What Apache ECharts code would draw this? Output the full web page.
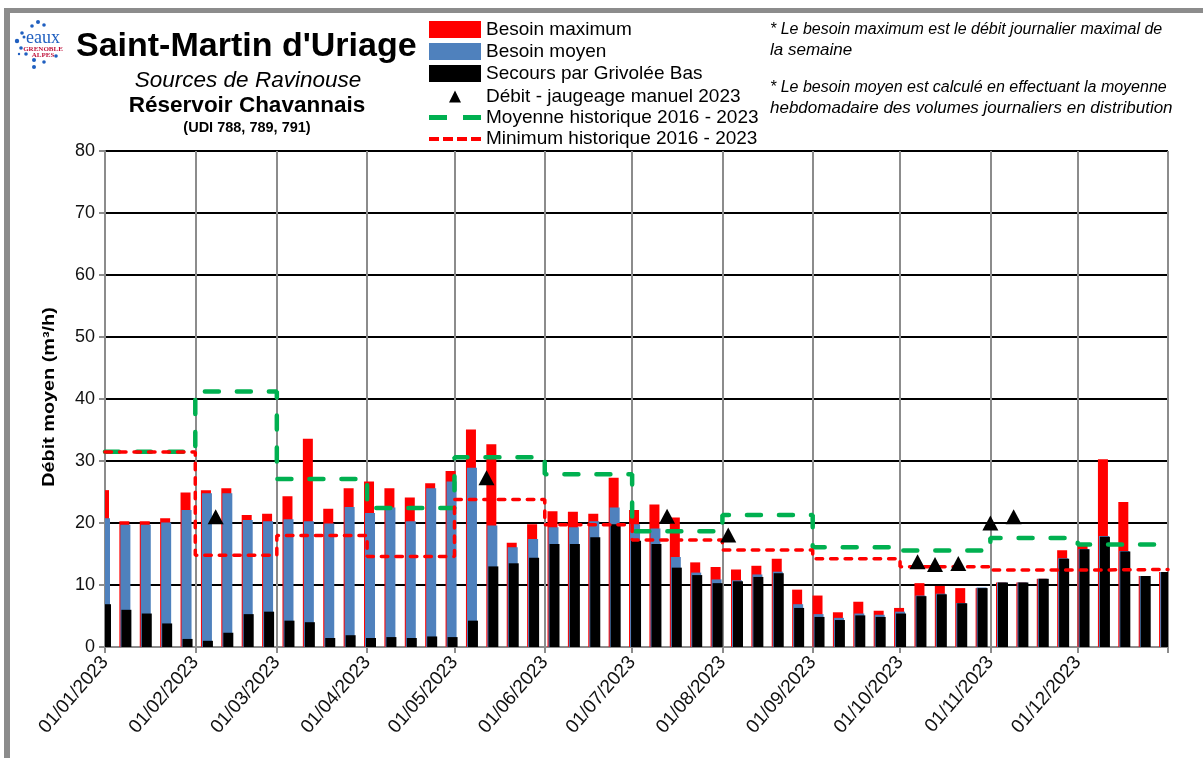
<!DOCTYPE html>
<html>
<head>
<meta charset="utf-8">
<title>Saint-Martin d'Uriage</title>
<script src="https://cdn.jsdelivr.net/npm/echarts@6/dist/echarts.min.js"></script>
<style>
html, body { margin: 0; padding: 0; background: #fff; }
#chart { width: 1203px; height: 758px; }
</style>
</head>
<body>
<div id="chart"></div>
<script>
// semaines (barres hebdomadaires)
var weeks = ['2023-01-01','2023-01-08','2023-01-15','2023-01-22','2023-01-29','2023-02-05','2023-02-12','2023-02-19','2023-02-26',
	'2023-03-05','2023-03-12','2023-03-19','2023-03-26','2023-04-02','2023-04-09','2023-04-16','2023-04-23','2023-04-30',
	'2023-05-07','2023-05-14','2023-05-21','2023-05-28','2023-06-04','2023-06-11','2023-06-18','2023-06-25',
	'2023-07-02','2023-07-09','2023-07-16','2023-07-23','2023-07-30','2023-08-06','2023-08-13','2023-08-20','2023-08-27',
	'2023-09-03','2023-09-10','2023-09-17','2023-09-24','2023-10-01','2023-10-08','2023-10-15','2023-10-22','2023-10-29',
	'2023-11-05','2023-11-12','2023-11-19','2023-11-26','2023-12-03','2023-12-10','2023-12-17','2023-12-24','2023-12-31'];
var besoinMax = [25.3,20.3,20.3,20.75,24.9,25.3,25.6,21.3,21.5,24.3,33.6,22.3,25.6,26.7,25.6,24.1,26.4,28.4,35.1,32.7,16.8,19.8,21.9,21.8,21.5,27.3,
	22.1,23.0,20.9,13.65,12.9,12.5,13.1,14.25,9.25,8.3,5.6,7.3,5.85,6.3,10.3,9.85,9.5,9.5,10.4,10.4,11.0,15.6,16.3,30.3,23.4,11.45,12.1];
var besoinMoyen = [20.75,19.7,19.7,20.1,22.1,24.8,24.8,20.5,20.3,20.6,20.3,19.9,22.6,21.6,22.5,20.3,25.6,26.7,28.9,19.6,16.1,17.4,19.3,19.3,20.3,22.5,
	19.8,19.1,14.5,12.0,10.9,10.75,11.7,12.15,6.9,5.3,4.7,5.4,5.2,5.7,8.3,8.6,7.1,9.6,10.4,10.4,11.0,14.3,15.8,17.9,15.5,11.45,12.1];
var secours = [6.9,6.0,5.4,3.8,1.3,1.0,2.3,5.3,5.7,4.25,4.0,1.45,1.9,1.45,1.6,1.45,1.7,1.6,4.25,13.0,13.5,14.4,16.6,16.6,17.7,19.8,
	17.15,16.6,12.8,11.6,10.3,10.6,11.3,11.9,6.3,4.85,4.35,5.1,4.85,5.4,8.2,8.5,7.05,9.5,10.4,10.4,11.0,14.25,15.75,17.8,15.4,11.45,12.1];

// historique par mois (la derniere valeur ferme decembre)
var months = ['2023-01-01','2023-02-01','2023-03-01','2023-04-01','2023-05-01','2023-06-01','2023-07-01','2023-08-01','2023-09-01','2023-10-01','2023-11-01','2023-12-01','2024-01-01'];
var moyenneHisto = [31.5,41.2,27.1,22.4,30.6,27.85,18.65,21.3,16.1,15.55,17.6,16.55,16.55];
var minimumHisto = [31.45,14.8,18.0,14.6,23.8,19.7,17.25,15.65,14.25,12.95,12.4,12.5,12.5];

// jaugeages manuels
var jaugeageDates = ['2023-02-08','2023-05-12','2023-07-13','2023-08-03','2023-10-07','2023-10-13','2023-10-21','2023-11-01','2023-11-09'];
var jaugeageValues = [21.0,27.3,21.1,18.05,13.75,13.3,13.45,20.0,21.0];

var yTicks = [0,10,20,30,40,50,60,70,80];
var notes = [
	'* Le besoin maximum est le débit journalier maximal de',
	'la semaine',
	'* Le besoin moyen est calculé en effectuant la moyenne',
	'hebdomadaire des volumes journaliers en distribution'
];

function ts(d) {
	return echarts.time.parse(d).getTime();
}

function zip(xs, ys) {
	var res = [];
	for (var i = 0; i < xs.length; i++) {
		res.push([ts(xs[i]), ys[i]]);
	}
	return res;
}

// barres en serie custom : type 'bar' ne coupe pas les barres du 1er et du dernier jour au bord de la grille
function weekBars(name, values, offset, color) {
	return {
		name: name,
		type: 'custom',
		encode: {x: 0, y: 1},
		itemStyle: {color: color},
		data: zip(weeks, values),
		renderItem: function (params, api) {
			var top = api.coord([api.value(0), api.value(1)]);
			var bottom = api.coord([api.value(0), 0]);
			var rect = echarts.graphic.clipRectByRect(
				{x: top[0] + offset - 5, y: top[1], width: 10, height: bottom[1] - top[1]},
				{x: params.coordSys.x, y: params.coordSys.y, width: params.coordSys.width, height: params.coordSys.height}
			);
			return rect && {type: 'rect', shape: rect, style: {fill: color}};
		}
	};
}

function tex(x, y, text, font, fill, align) {
	return {type: 'text', x: x, y: y, z: 20, style: {text: text, font: font, fill: fill || '#000', align: align || 'left', verticalAlign: 'middle'}};
}

function drop(x, y, r) {
	return {type: 'circle', z: 20, shape: {cx: x, cy: y, r: r}, style: {fill: '#1f5fc0'}};
}

var barNames = ['Besoin maximum', 'Besoin moyen', 'Secours par Grivolée Bas'];
var triName = 'Débit - jaugeage manuel 2023';
var lineNames = ['Moyenne historique 2016 - 2023', 'Minimum historique 2016 - 2023'];
var legendText = {fontFamily: 'Liberation Sans', fontSize: 19, color: '#000'};
var monthValues = months.map(ts);

var chart = echarts.init(document.getElementById('chart'), null, {renderer: 'canvas'});
chart.setOption({
	animation: false,
	backgroundColor: '#fff',
	textStyle: {fontFamily: 'Liberation Sans'},
	grid: {left: 105, right: 35, top: 151, bottom: 111, containLabel: false},
	legend: [
		{data: [
			{name: barNames[0], icon: 'rect'},
			{name: barNames[1], icon: 'rect'},
			{name: barNames[2], icon: 'rect'}
		], orient: 'vertical', left: 429, top: 20, itemWidth: 52, itemHeight: 17, itemGap: 3, selectedMode: false, padding: 0, textStyle: legendText},
		{data: [{name: triName, icon: 'path://M0 12L52 12ZM20 12L26 0L32 12Z'}], orient: 'vertical', left: 429, top: 87, itemWidth: 52, itemHeight: 12, selectedMode: false, padding: 0, textStyle: legendText},
		{data: [
			{name: lineNames[0], icon: 'path://M0 0H18V5H0ZM34 0H52V5H34Z'},
			{name: lineNames[1], icon: 'path://M0 0H10V4H0ZM14 0H24V4H14ZM28 0H38V4H28ZM42 0H52V4H42Z'}
		], orient: 'vertical', left: 429, top: 108, itemWidth: 52, itemHeight: 20, itemGap: 2.5, selectedMode: false, padding: 0, textStyle: legendText}
	],
	xAxis: {
		type: 'value',
		min: monthValues[0],
		max: monthValues[12],
		axisLine: {onZero: false, lineStyle: {color: '#8c8c8c', width: 2}},
		axisTick: {show: true, length: 6, customValues: monthValues, lineStyle: {color: '#8c8c8c', width: 2}},
		splitLine: {show: true, lineStyle: {color: '#8c8c8c', width: 2}},
		axisLabel: {
			customValues: monthValues.slice(0, 12),
			rotate: 49,
			margin: 12,
			fontFamily: 'Liberation Sans',
			fontSize: 19,
			color: '#111',
			formatter: function (value) {
				return echarts.time.format(value, '{dd}/{MM}/{yyyy}');
			},
			hideOverlap: false
		}
	},
	yAxis: {
		type: 'value',
		min: yTicks[0],
		max: yTicks[yTicks.length - 1],
		interval: 10,
		axisLine: {show: true, lineStyle: {color: '#8c8c8c', width: 2}},
		axisTick: {show: true, length: 6, lineStyle: {color: '#8c8c8c', width: 2}},
		splitLine: {show: true, lineStyle: {color: '#000', width: 2}},
		axisLabel: {fontFamily: 'Liberation Sans', fontSize: 18, color: '#111', margin: 10}
	},
	series: [
		weekBars(barNames[0], besoinMax, -1, '#ff0000'),
		weekBars(barNames[1], besoinMoyen, 0, '#4f81bd'),
		weekBars(barNames[2], secours, 1, '#000'),
		{name: lineNames[0], type: 'line', step: 'end', symbol: 'none', z: 5, itemStyle: {color: '#00b050'},
			lineStyle: {color: '#00b050', width: 4.5, type: [14, 18], cap: 'round'}, data: zip(months, moyenneHisto)},
		{name: lineNames[1], type: 'line', step: 'end', symbol: 'none', z: 6, itemStyle: {color: '#ff0000'},
			lineStyle: {color: '#ff0000', width: 3.5, type: [6.5, 8], cap: 'round'}, data: zip(months, minimumHisto)},
		{name: triName, type: 'scatter', symbol: 'triangle', symbolSize: [16, 15], z: 7, itemStyle: {color: '#000', opacity: 1}, data: zip(jaugeageDates, jaugeageValues)}
	],
	graphic: [
		// cadre
		{type: 'rect', z: 1, shape: {x: 4, y: 8, width: 6, height: 750}, style: {fill: '#8c8c8c'}},
		{type: 'rect', z: 1, shape: {x: 4, y: 8, width: 1199, height: 5}, style: {fill: '#8c8c8c'}},
		// titres
		tex(76, 47, "Saint-Martin d'Uriage", 'bold 34px "Liberation Sans"'),
		tex(248, 81, 'Sources de Ravinouse', 'italic 22.5px "Liberation Sans"', '#000', 'center'),
		tex(247, 106, 'Réservoir Chavannais', 'bold 22.5px "Liberation Sans"', '#000', 'center'),
		tex(247, 128, '(UDI 788, 789, 791)', 'bold 14.5px "Liberation Sans"', '#000', 'center'),
		// titre de l'axe y, etire comme sur l'original
		{type: 'text', x: 50, y: 397, z: 20, rotation: Math.PI / 2, scaleX: 1.24,
			style: {text: 'Débit moyen (m³/h)', font: 'bold 16px "Liberation Sans"', fill: '#000', align: 'center', verticalAlign: 'middle'}},
		// notes
		tex(770, 30, notes[0], 'italic 16px "Liberation Sans"'),
		tex(770, 50, notes[1], 'italic 17px "Liberation Sans"'),
		tex(770, 88, notes[2], 'italic 16px "Liberation Sans"'),
		tex(770, 108, notes[3], 'italic 17px "Liberation Sans"'),
		// logo
		drop(38, 22, 2), drop(44, 25, 1.8), drop(32, 26, 1.8), drop(22, 33, 1.8), drop(17, 41, 2.2), drop(21, 48, 1.8),
		drop(26, 54, 1.8), drop(34, 60, 2), drop(34, 67, 2), drop(44, 62, 1.8), drop(56, 56, 1.8), drop(19, 54, 1.2), drop(24, 37, 1.5),
		tex(43, 38, 'eaux', '18px "Liberation Serif"', '#1f5fc0', 'center'),
		tex(43, 49, 'GRENOBLE', 'bold 7px "Liberation Serif"', '#c0143c', 'center'),
		tex(43, 55, 'ALPES', 'bold 7px "Liberation Serif"', '#c0143c', 'center')
	]
});
</script>
</body>
</html>
